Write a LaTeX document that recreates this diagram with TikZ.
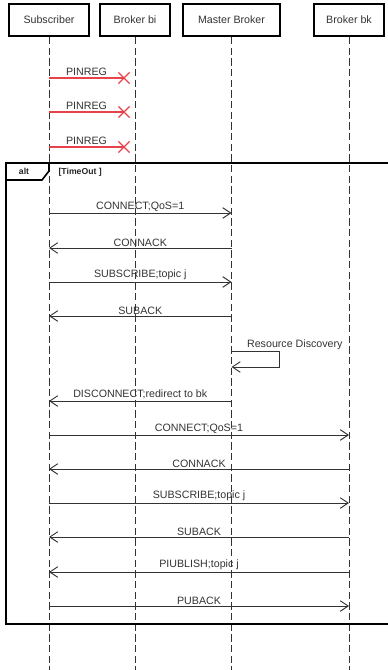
\documentclass[tikz,border=0pt]{standalone}
\usepackage{fontspec}
\setmainfont{Liberation Sans}
\usetikzlibrary{arrows.meta,shapes.misc}
\definecolor{lineg}{HTML}{333333}
\definecolor{pinred}{HTML}{E8424A}
\begin{document}
\begin{tikzpicture}[x=0.75pt,y=0.75pt,
  actor/.style={draw=black, line width=1.5pt, minimum height=24pt, inner sep=0pt,
    font=\fontsize{8}{9}\selectfont, text=black!80},
  life/.style={draw=lineg, line width=0.7pt, dash pattern=on 5.5pt off 2.5pt},
  msg/.style={draw=lineg, line width=0.7pt, -{Straight Barb[length=6pt,width=8pt]}},
  lab/.style={font=\fontsize{8}{9}\selectfont, text=black!80, inner sep=1pt},
  lostx/.style={cross out, draw=pinred, line width=0.9pt, minimum size=7.5pt, inner sep=0pt},
  tag/.style={font=\fontsize{6.5}{7}\selectfont\bfseries, text=black!85, inner sep=1pt}]
  \useasboundingbox (0,0) rectangle (388,-670);

  \node[actor, minimum width=60pt] (sub) at (49,-20) {Subscriber};
  \node[actor, minimum width=52.5pt] (bi) at (135,-20) {Broker bi};
  \node[actor, minimum width=72.75pt] (mb) at (231.5,-20) {Master Broker};
  \node[actor, minimum width=52.5pt] (bk) at (349,-20) {Broker bk};
  \foreach \n in {sub,bi,mb,bk}
    \draw[life] (\n.south) -- (\n.south |- 0,-672);

  \foreach \y [count=\i] in {78,112,147} {
    \node[lostx] (lost\i) at (124,-\y) {};
    \draw[pinred, line width=0.9pt] (sub |- lost\i) -- (lost\i.center)
      node[midway, above, lab] {PINREG};
  }

  \draw[line width=1.5pt] (392,-163) -- (6,-163) -- (6,-624) -- (392,-624);
  \draw[line width=1.2pt] (6,-180) -- (42,-180) -- (49,-171) -- (49,-163);
  \node[tag] (alt) at (24,-171.5) {alt};
  \node[tag, anchor=west] (guard) at (57,-172) {[TimeOut ]};

  \foreach \y/\a/\b/\lab in {213/sub/mb/CONNECT;QoS=1, 248/mb/sub/CONNACK,
      282/sub/mb/SUBSCRIBE;topic j, 316/mb/sub/SUBACK,
      401/mb/sub/DISCONNECT;redirect to bk, 435/sub/bk/CONNECT;QoS=1,
      469/bk/sub/CONNACK, 503/sub/bk/SUBSCRIBE;topic j, 537/bk/sub/SUBACK,
      572/bk/sub/PIUBLISH;topic j, 606/sub/bk/PUBACK}
    \draw[msg] (\a |- 0,-\y) -- (\b |- 0,-\y) node[midway, above, lab] {\lab};

  \coordinate (rd1) at (279,-351);
  \coordinate (rd2) at (279,-367);
  \draw[msg] (mb |- rd1) -- (rd1) -- (rd2) -- (mb |- rd2);
  \node[lab, anchor=south west] (rdlab) at (245.5,-351) {Resource Discovery};
\end{tikzpicture}
\end{document}
